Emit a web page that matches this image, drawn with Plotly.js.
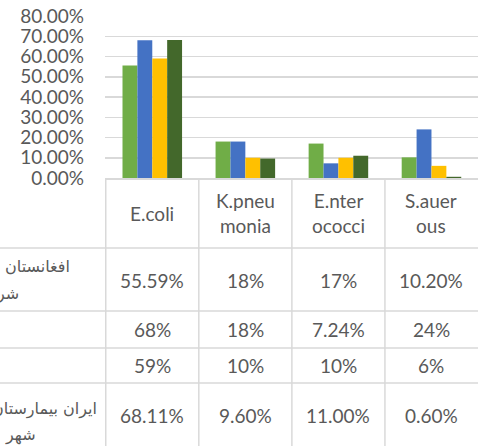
<!DOCTYPE html>
<html>
<head>
<meta charset="utf-8">
<script src="https://cdn.plot.ly/plotly-3.0.1.min.js"></script>
<style>html,body{margin:0;padding:0;background:#fff;}</style>
</head>
<body>
<div id="chart" style="width:478px;height:446px;"></div>
<script>
// ---- data ----
const categories = ['E.coli', 'K.pneumonia', 'E.nterococci', 'S.auerous'];
const headerLabels = ['E.coli', 'K.pneu<br>monia', 'E.nter<br>ococci', 'S.auer<br>ous'];
const seriesNames = ['افغانستان', 'سری ۲', 'سری ۳', 'ایران بیمارستان'];
const series1 = [55.59, 18, 17, 10.20];
const series2 = [68, 18, 7.24, 24];
const series3 = [59, 10, 10, 6];
const series4 = [68.11, 9.60, 11.00, 0.60];
const tableText1 = ['55.59%', '18%', '17%', '10.20%'];
const tableText2 = ['68%', '18%', '7.24%', '24%'];
const tableText3 = ['59%', '10%', '10%', '6%'];
const tableText4 = ['68.11%', '9.60%', '11.00%', '0.60%'];
const rowLabelLines = [['افغانستان', 'شریف'], [], [], ['ایران بیمارستان', 'شهر']];

// ---- styling / layout ----
const colors = ['#70AD47', '#4472C4', '#FFC000', '#43682B'];
const allSeries = [series1, series2, series3, series4];
const allText = [tableText1, tableText2, tableText3, tableText4];
const textColor = '#595959';
const lineColor = '#D9D9D9';
const FONT = 'Lato, "Liberation Sans", sans-serif';
const AFONT = '"DejaVu Sans", "Noto Sans", sans-serif';

const L = 105, T = 16, W = 373, H = 162;
const py = p => (T + H - p) / H;
const px = p => (p - L) / W;

const traces = allSeries.map((s, i) => ({
  type: 'bar',
  x: categories,
  y: s.map(v => v / 100),
  name: seriesNames[i],
  marker: {color: colors[i]},
  hoverinfo: 'none'
}));

const annotations = [];
// header row
categories.forEach((c, j) => {
  annotations.push({xref: 'x', yref: 'paper', x: c, y: py(213), text: headerLabels[j],
    showarrow: false, xanchor: 'center', yanchor: 'middle',
    font: {family: FONT, size: 19, color: textColor}});
});
// data rows
const rowCenters = [280, 329, 365, 415];
allText.forEach((row, i) => {
  row.forEach((t, j) => {
    annotations.push({xref: 'x', yref: 'paper', x: categories[j], y: py(rowCenters[i]), text: t,
      showarrow: false, xanchor: 'center', yanchor: 'middle',
      font: {family: FONT, size: 19, color: textColor}});
  });
});
// row labels (clipped at left edge)
const labelPos = [[[72, 266], [21, 294]], [], [], [[99, 409], [38, 435]]];
rowLabelLines.forEach((lines, i) => {
  lines.forEach((t, k) => {
    const p = labelPos[i][k];
    annotations.push({xref: 'paper', yref: 'paper', x: px(p[0]), y: py(p[1]), text: t,
      showarrow: false, xanchor: 'right', yanchor: 'middle',
      font: {family: AFONT, size: 16, color: textColor}});
  });
});

const shapes = [];
// vertical table lines at category boundaries
[-0.5, 0.5, 1.5, 2.5].forEach(xv => {
  shapes.push({type: 'line', xref: 'x', yref: 'paper', x0: xv, x1: xv, y0: 0, y1: py(446),
    line: {color: lineColor, width: 1.5}});
});
// horizontal table lines
[248, 311, 348, 383].forEach(yv => {
  shapes.push({type: 'line', xref: 'paper', yref: 'paper', x0: px(0), x1: px(478), y0: py(yv), y1: py(yv),
    line: {color: lineColor, width: 1.5}});
});

const layout = {
  width: 478, height: 446,
  margin: {l: L, r: 0, t: T, b: 446 - T - H, pad: 0},
  paper_bgcolor: '#fff', plot_bgcolor: '#fff',
  showlegend: false,
  barmode: 'group', bargap: 0.36, bargroupgap: 0,
  xaxis: {type: 'category', showticklabels: false, showgrid: false, showline: true,
    linecolor: lineColor, linewidth: 1.5, ticks: '', zeroline: false, fixedrange: true},
  yaxis: {range: [0, 0.8], dtick: 0.1, tickformat: '.2%', showgrid: true, gridcolor: lineColor,
    gridwidth: 1.5, zeroline: false, showline: false, ticks: '', ticklabelstandoff: 20,
    tickfont: {family: FONT, size: 19, color: textColor}, fixedrange: true},
  annotations: annotations,
  shapes: shapes
};

Plotly.newPlot('chart', traces, layout, {displayModeBar: false, staticPlot: true});
</script>
</body>
</html>
